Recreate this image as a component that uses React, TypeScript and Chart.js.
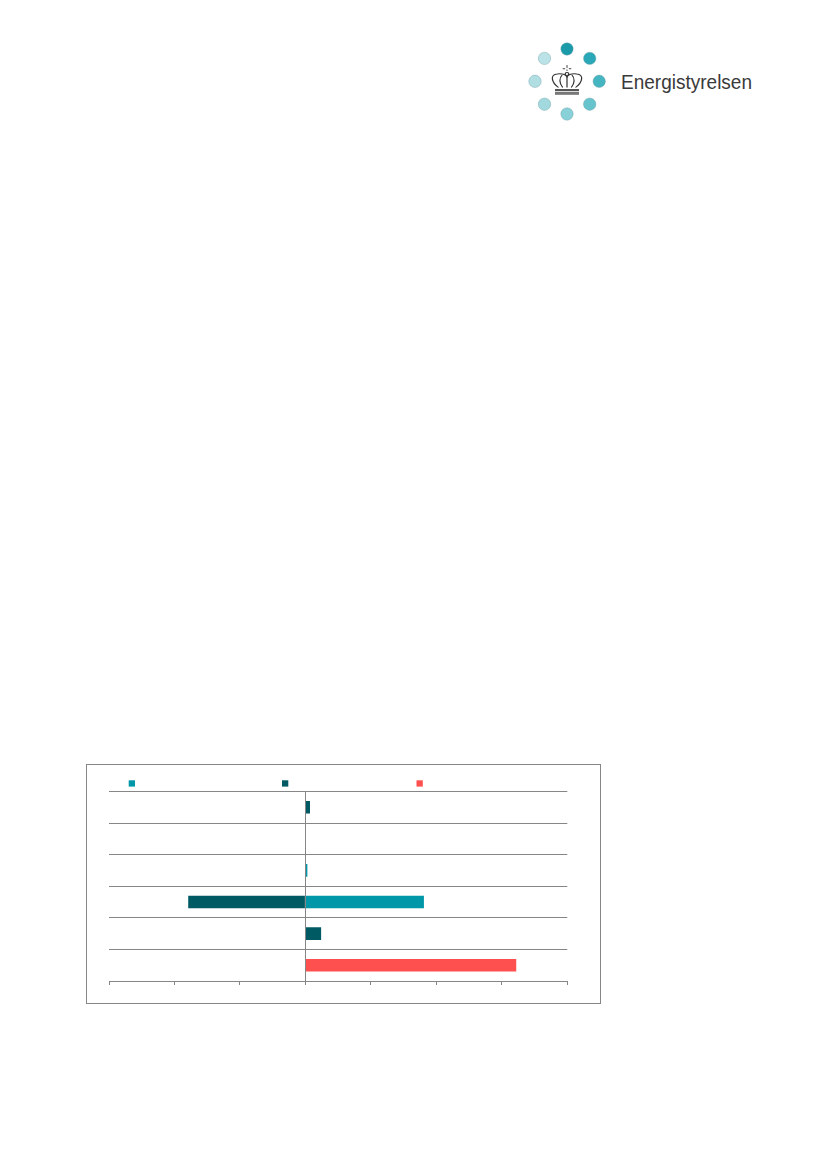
import React, { useEffect, useRef } from "react";
import { Chart, registerables } from "chart.js";

Chart.register(...registerables);

const categories = ["A", "B", "C", "D", "E", "F"];
const tealValues = [0, 0, 0.03, 1.81, 0, 0];
const darkValues = [0.07, 0, 0, -1.79, 0.24, 0];
const redValues = [0, 0, 0, 0, 0, 3.22];
const axisMin = -3;
const axisMax = 4;

const TEAL = "#0098A8";
const DARK = "#005A64";
const RED = "#FF5050";
const GRID = "#868686";

const logoDots = [
  [567, 49, "#1B9AAA"],
  [589.7, 58.4, "#2AA8B7"],
  [599.2, 81.3, "#45B5C1"],
  [589.7, 104.2, "#67C4CD"],
  [567, 114, "#89D1D8"],
  [544.5, 104.2, "#A2D9DF"],
  [535, 81.3, "#B0DEE3"],
  [544.5, 58.4, "#BBE2E6"],
] as const;

const legendSquares = [
  { x: 128.7, color: TEAL },
  { x: 282, color: DARK },
  { x: 416.5, color: RED },
];

const legendPlugin = {
  id: "squareLegend",
  afterDraw(chart: Chart) {
    const { ctx } = chart;
    ctx.save();
    legendSquares.forEach((s) => {
      ctx.fillStyle = s.color;
      ctx.fillRect(s.x - 86, 780.3 - 763, 6.3, 6.3);
    });
    ctx.restore();
  },
};

export default function App() {
  const ref = useRef<HTMLCanvasElement>(null);
  useEffect(() => {
    if (!ref.current) return;
    const chart = new Chart(ref.current, {
      type: "bar",
      data: {
        labels: categories,
        datasets: [
          { label: "Teal", data: tealValues, backgroundColor: TEAL },
          { label: "Dark", data: darkValues, backgroundColor: DARK },
          { label: "Red", data: redValues, backgroundColor: RED },
        ],
      },
      plugins: [legendPlugin],
      options: {
        indexAxis: "y",
        animation: false,
        responsive: false,
        maintainAspectRatio: false,
        datasets: { bar: { barPercentage: 0.4, categoryPercentage: 1 } },
        layout: { padding: { left: 23, right: 33.7, top: 28.4, bottom: 0 } },
        plugins: { legend: { display: false }, tooltip: { enabled: false }, title: { display: false } },
        scales: {
          x: {
            stacked: true,
            min: axisMin,
            max: axisMax,
            afterFit: (s: any) => { s.height = 23; },
            ticks: { stepSize: 1, color: "rgba(0,0,0,0)", font: { size: 1 }, padding: 0, maxRotation: 0 },
            grid: { drawOnChartArea: false, drawTicks: true, tickLength: 4, color: GRID, lineWidth: 1 },
            border: { display: true, color: GRID, width: 1 },
          },
          y: {
            stacked: true,
            position: { x: 0 },
            ticks: { display: false },
            grid: { offset: true, drawTicks: false, color: GRID, lineWidth: 1 },
            border: { display: true, color: GRID, width: 1, z: 1 },
          },
        },
      } as any,
    });
    return () => chart.destroy();
  }, []);

  return (
    <div style={{ position: "absolute", left: 0, top: 0, width: 827, height: 1169, overflow: "hidden", background: "#fff" }}>
      <svg width={827} height={200} style={{ position: "absolute", left: 0, top: 0 }}>
        {logoDots.map(([cx, cy, fill], i) => (
          <circle key={i} cx={cx} cy={cy} r={6.2} fill={fill} stroke="#6f9ea4" strokeWidth={0.4} />
        ))}
        <g fill="none" stroke="#333" strokeWidth={1} transform="translate(567 87.5) scale(1.22 1) translate(-567 -87.5)">
          <path d="M560 87.5 C554 82 553 74.5 559 74 C563 73.5 566 75 567 77 C568 75 571 73.5 575 74 C581 74.5 580 82 574 87.5" />
          <path d="M563.5 87.5 C560.5 83 560.5 78 563 75 M570.5 87.5 C573.5 83 573.5 78 571 75 M567 77 V87.5" />
          <circle cx={567} cy={74} r={1.5} />
          <path d="M567 65 V68 M567 69.5 V71 M563.5 68.7 H565.5 M568.5 68.7 H570.5" strokeWidth={0.8} />
        </g>
        <rect x={555} y={89} width={24} height={2.2} fill="#555" />
        <rect x={555} y={92} width={24} height={2.8} fill="#777" />
        <text x={621} y={89} fontFamily="Liberation Sans" fontSize={20.5} fill="#3a3a3a" textLength={131} lengthAdjust="spacingAndGlyphs">
          Energistyrelsen
        </text>
      </svg>
      <div style={{ position: "absolute", left: 86, top: 763.5, width: 515, height: 240.5, border: "1px solid #868686", boxSizing: "border-box" }} />
      <canvas ref={ref} width={515} height={241} style={{ position: "absolute", left: 86, top: 763, width: 515, height: 241 }} />
    </div>
  );
}
